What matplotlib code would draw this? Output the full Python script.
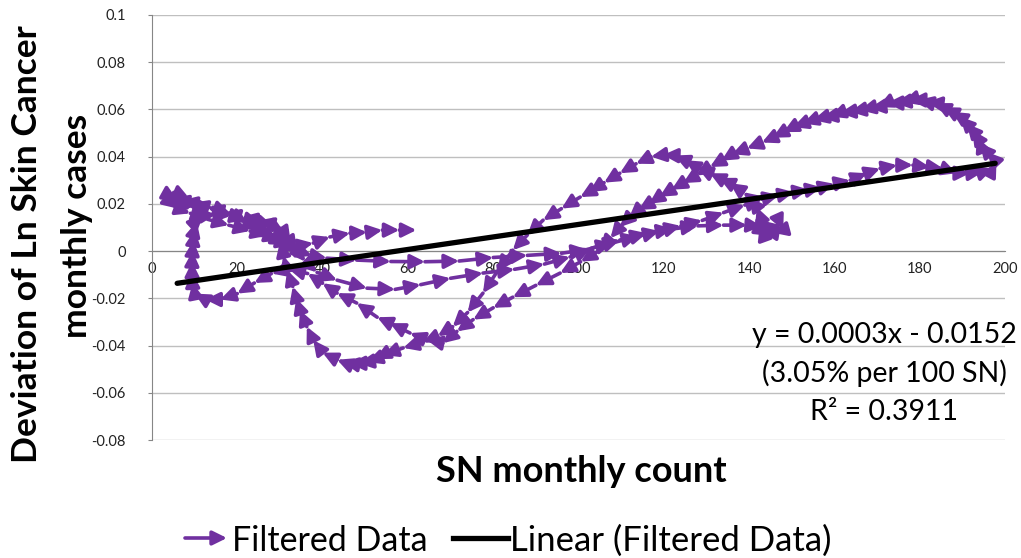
import numpy as np
import matplotlib.pyplot as plt
from matplotlib.lines import Line2D

plt.rcParams['font.family'] = ['Lato', 'DejaVu Sans']

# filtered data, traced in time order (x = SN monthly count, y = deviation)
start_pts = [(5.0, 0.0225), (6.0, 0.0215), (8.0, 0.020), (10.5, 0.019), (14.3, 0.0186),
             (18.3, 0.016), (22.3, 0.0119), (25.3, 0.0089), (28.5, 0.0055), (31.5, 0.0025),
             (34.5, 0.0), (37.5, -0.002)]

rise1_pts = [(41, -0.003), (48, -0.0038), (56, -0.0044), (64, -0.0045), (72, -0.0042),
             (80, -0.0027), (88, -0.0018), (96, -0.0009), (102, 0.0007), (108, 0.0035),
             (114, 0.0063), (119, 0.0085), (124, 0.0107), (129, 0.013), (134, 0.0163),
             (139, 0.0195), (143, 0.022), (147, 0.0237), (150.5, 0.025), (154, 0.026),
             (157, 0.027), (160, 0.0285), (163.7, 0.030), (167.6, 0.033), (170.7, 0.035),
             (174.7, 0.0364), (178.4, 0.0364), (182.4, 0.0356), (185.5, 0.035), (188.7, 0.033),
             (191.8, 0.033), (194.8, 0.0335), (197.2, 0.035)]

peak1_pts = [(198, 0.0377), (195.8, 0.042), (194, 0.0457), (193.4, 0.0483), (192.3, 0.0513),
             (191, 0.054), (189.4, 0.057), (187.6, 0.059), (185.5, 0.061), (183.6, 0.0627),
             (181.7, 0.0631), (179.6, 0.064), (177.7, 0.064), (176, 0.0631), (174.2, 0.0627),
             (172.3, 0.0627), (170.2, 0.061), (168.3, 0.0606), (166, 0.0597), (163.7, 0.059),
             (161.3, 0.0585), (159, 0.057), (157, 0.0564), (155, 0.0555), (152.6, 0.054),
             (150.3, 0.0525), (148, 0.0504), (145.5, 0.048), (143, 0.046), (139.5, 0.0435),
             (136, 0.041), (133.5, 0.0383), (130.8, 0.0356), (127.6, 0.032), (124.5, 0.0288),
             (121.8, 0.026), (119, 0.023), (116.5, 0.020), (114, 0.0174), (111.8, 0.014),
             (109.7, 0.0102), (107.5, 0.0055), (105, 0.0004), (100.5, -0.0045), (95.7, -0.0093),
             (90, -0.0145), (84.6, -0.0195), (80, -0.024), (75.3, -0.029), (71.5, -0.034),
             (68.2, -0.039)]

min1_pts = [(64.5, -0.0377), (60.5, -0.0347), (55.8, -0.0305), (52.8, -0.028), (48, -0.022),
            (43.4, -0.0178), (40, -0.0136), (36.5, -0.0095), (32, -0.0075), (28, -0.0095),
            (24, -0.0135), (20, -0.018), (16, -0.0205), (12.5, -0.0205), (10, -0.018),
            (9.5, -0.0135), (9.4, -0.009), (9.4, -0.0045), (9.5, 0.0), (9.7, 0.0045),
            (10, 0.009), (10.5, 0.0125), (12, 0.015), (15, 0.0155), (18.5, 0.015),
            (22, 0.0135), (25.5, 0.012), (28.5, 0.0105), (31, 0.008), (32.5, 0.004),
            (34, 0.0), (36, -0.0045), (38.7, -0.009)]

rise2_pts = [(43.4, -0.0123), (50.4, -0.0157), (57, -0.0162), (63, -0.0142), (70, -0.0115),
             (77.6, -0.0093), (85, -0.0077), (92, -0.0055), (98, -0.0025), (103, 0.0012),
             (109.7, 0.0047), (116, 0.0076), (122, 0.0094), (128, 0.0107), (134, 0.011),
             (139.5, 0.011), (143, 0.0105), (145.5, 0.0102), (147.5, 0.011), (148, 0.009),
             (145.5, 0.0078), (143, 0.0085), (142.5, 0.011), (142.7, 0.0144)]

decline2_pts = [(141.8, 0.0186), (140, 0.023), (138.6, 0.025), (135.5, 0.0288), (133, 0.031),
                (130.8, 0.033), (127.8, 0.0355), (125, 0.0385), (122.5, 0.0405), (119.8, 0.0407),
                (117, 0.040), (113.5, 0.037), (109.7, 0.033), (106, 0.029), (102.5, 0.025),
                (100.4, 0.0229), (96, 0.018), (91.7, 0.0131), (88, 0.0068), (84.6, 0.0004),
                (81, -0.0085), (77.6, -0.0178), (74, -0.026), (70.5, -0.032), (67, -0.036),
                (63.5, -0.0386), (58.9, -0.041), (54.2, -0.044), (52.3, -0.0458), (50.4, -0.047),
                (48.4, -0.0475), (46.4, -0.0475), (44.8, -0.047), (43.4, -0.046), (40, -0.043),
                (37.8, -0.0377), (36.3, -0.032), (34.7, -0.025), (33.8, -0.020), (33, -0.015),
                (31.7, -0.008)]

end_pts = [(30.8, -0.002), (30, 0.004), (29.5, 0.009), (28, 0.0115), (25, 0.013), (21, 0.0145),
           (17, 0.0165), (13, 0.0185), (9.5, 0.0205), (7, 0.0215), (5, 0.0225), (4, 0.021),
           (6, 0.018), (9, 0.016), (13, 0.0135), (18, 0.011), (23, 0.0085), (27, 0.0065),
           (30, 0.0045), (33, 0.0017), (37.8, 0.0034), (41.7, 0.006), (46.4, 0.0076),
           (50.4, 0.008), (54, 0.0089), (58, 0.0089), (62, 0.0089)]

# linear trend
trend_x = np.array([5.9, 197.7])
trend_slope = 0.000265
trend_intercept = -0.0152

y_ticks = [-0.08, -0.06, -0.04, -0.02, 0, 0.02, 0.04, 0.06, 0.08, 0.1]
y_labels = ['-0.08', '-0.06', '-0.04', '-0.02', '0', '0.02', '0.04', '0.06', '0.08', '0.1']
x_ticks = [0, 20, 40, 60, 80, 100, 120, 140, 160, 180, 200]

purple = '#7030A0'

path = start_pts + rise1_pts + peak1_pts + min1_pts + rise2_pts + decline2_pts + end_pts
xs = [p[0] for p in path]
ys = [p[1] for p in path]

fig = plt.figure(figsize=(10.21, 5.58), dpi=100)
ax = fig.add_axes([152 / 1021, 118 / 558, 853 / 1021, 425 / 558])
ax.set_xlim(0, 200)
ax.set_ylim(-0.08, 0.1)

ax.set_yticks(y_ticks)
ax.set_yticklabels(y_labels)
ax.set_xticks(x_ticks)
ax.grid(axis='y', color='#BFBFBF', lw=1)
ax.set_axisbelow(True)
for s in ['top', 'right']:
    ax.spines[s].set_visible(False)
ax.spines['left'].set_color('#868686')
ax.spines['bottom'].set_color('#868686')
ax.spines['bottom'].set_position(('data', 0))
ax.tick_params(axis='y', length=3, color='#868686', pad=16, labelsize=10.5, labelcolor='#222222')
ax.tick_params(axis='x', length=0, pad=8, labelsize=10.5, labelcolor='#222222')

# every segment ends with an arrowhead
arrow_style = '-|>,head_length=0.85,head_width=0.42'
for i in range(1, len(xs)):
    ax.annotate('', xy=(xs[i], ys[i]), xytext=(xs[i - 1], ys[i - 1]),
                arrowprops=dict(arrowstyle=arrow_style, color=purple, lw=2.6,
                                shrinkA=0, shrinkB=0), zorder=3)

ax.plot(trend_x, trend_slope * trend_x + trend_intercept, color='black', lw=3.8,
        solid_capstyle='round', zorder=5)

# labels
fig.text(581 / 1021, 1 - 482 / 558, 'SN monthly count', ha='center', va='baseline',
         fontsize=26, fontweight='bold')
fig.text(27 / 1021, 1 - 244 / 558, 'Deviation of Ln Skin Cancer', rotation=90,
         ha='center', va='center', fontsize=25.5, fontweight='bold')
fig.text(77 / 1021, 1 - 226 / 558, 'monthly cases', rotation=90,
         ha='center', va='center', fontsize=25.5, fontweight='bold')

eq_lines = ['y = 0.0003x - 0.0152', '(3.05% per 100 SN)', 'R² = 0.3911']
for line, base in zip(eq_lines, [343, 382, 420]):
    fig.text(884 / 1021, 1 - base / 558, line, ha='center', va='baseline', fontsize=20.5)

# legend
ax.annotate('', xy=(227, 20), xytext=(185, 20), xycoords='figure pixels',
            arrowprops=dict(arrowstyle=arrow_style, color=purple, lw=2.6,
                            shrinkA=0, shrinkB=0))
fig.text(232 / 1021, 7 / 558, 'Filtered Data', ha='left', va='baseline', fontsize=24.5)
fig.add_artist(Line2D([453 / 1021, 508 / 1021], [20 / 558, 20 / 558], color='black', lw=3.8))
fig.text(510 / 1021, 7 / 558, 'Linear (Filtered Data)', ha='left', va='baseline', fontsize=25)

fig.savefig('out.png', dpi=100)
